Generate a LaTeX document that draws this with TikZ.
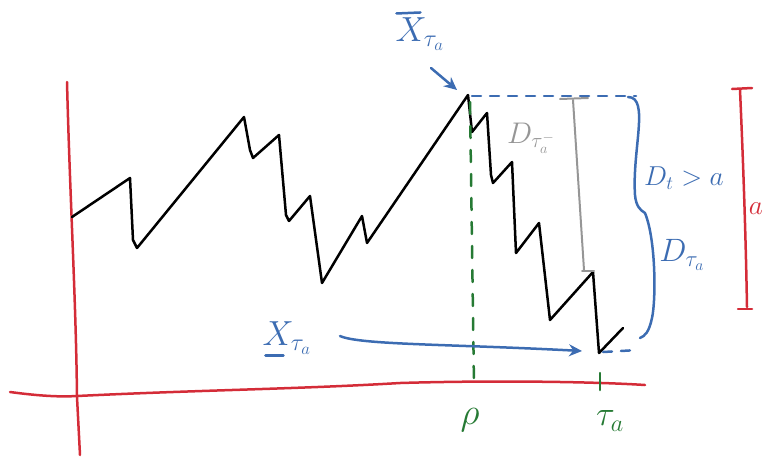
\documentclass[tikz,border=0pt]{standalone}
\usepackage{graphicx}
\usetikzlibrary{arrows.meta}
\definecolor{pblue}{RGB}{60,108,178}
\definecolor{pred}{RGB}{212,44,56}
\definecolor{pgreen}{RGB}{38,122,52}
\definecolor{pgray}{RGB}{150,150,150}
\newcommand{\sketchlabel}[2][1.4]{\scalebox{#1}{\fontsize{24}{28}\selectfont$#2$}}
\tikzset{
  ink/.style={line width=2.5pt,line cap=round,line join=round},
  axis/.style={ink,pred},
  path/.style={ink,black},
  bluedash/.style={ink,pblue,dash pattern=on 9pt off 9pt},
  greendash/.style={ink,pgreen,dash pattern=on 12pt off 12pt},
  lbl/.style={inner sep=0pt},
  barrow/.style={ink,pblue,-{Stealth[length=13pt,width=12pt]}}
}
\begin{document}
\begin{tikzpicture}[x=1pt,y=-1pt]
\useasboundingbox (0,0) rectangle (763,459);
% axes
\draw[axis] (67,82) .. controls (70,200) and (76,300) .. (77,397) -- (80,455);
\draw[axis] (10,392) .. controls (40,396) and (60,397) .. (77,396) .. controls (200,390) and (300,389) .. (400,383) .. controls (500,380) and (600,382) .. (645,385);
% sample path
\coordinate (p0) at (72,217);
\draw[path] (p0) -- (130,178) -- (133,240) -- (137,248) -- (244,117) -- (250,150) -- (253,158) -- (279,135) -- (286,215) -- (289,221) -- (310,196) -- (322,283) -- (362,216) -- (367,243) -- (468,95) -- (472,132)
  -- (487,113) -- (491,175) -- (493,183) -- (512,162) -- (516,253) -- (539,223) -- (550,320) -- (593,272) -- (599,353) -- (623,328);
% green dashed and tick
\draw[greendash] (470,102) -- (474,386);
\draw[ink,pgreen] (600,373) -- (600,390);
% blue dashed
\draw[bluedash] (472,96) -- (636,96);
\draw[bluedash] (603,352) -- (638,350);
% gray jump
\draw[ink,pgray,line width=2pt] (573,100) -- (584,270);
\draw[ink,pgray,line width=2pt] (560,99) -- (588,98);
\draw[ink,pgray,line width=2pt] (582,271) -- (594,271);
% brace
\draw[ink,pblue] (628,97) .. controls (650,97) and (632,150) .. (635,195) .. controls (636,206) and (640,210) .. (645,213) .. controls (656,240) and (656,300) .. (652,318) .. controls (649,332) and (645,336) .. (640,338);
% red bar a
\draw[axis] (740,90) .. controls (744,180) and (746,250) .. (747,307);
\draw[axis] (732,89) -- (752,88);
\draw[axis] (738,309) -- (752,309);
% labels
\node[lbl,text=pblue] (xbar) at (420,34) {\sketchlabel{X_{\tau_a}}};
\draw[ink,pblue] ([xshift=1pt,yshift=4pt]xbar.north west) -- ++(24,-1);
\node[lbl,text=pblue] (xund) at (287,338) {\sketchlabel{X_{\tau_a}}};
\draw[ink,pblue] ([xshift=3pt,yshift=-1pt]xund.south west) -- ++(18,0);
\node[lbl,text=pgray] (dminus) at (531,138) {\sketchlabel[1.2]{D_{\tau_a^-}}};
\node[lbl,text=pblue] (dt) at (684,178) {\sketchlabel[1.1]{D_t>a}};
\node[lbl,text=pblue] (dtau) at (682,255) {\sketchlabel[1.3]{D_{\tau_a}}};
\node[lbl,text=pred] (ared) at (756,209) {\sketchlabel[1.1]{a}};
\node[lbl,text=pgreen] (rho) at (470,420) {\sketchlabel[1.5]{\rho}};
\node[lbl,text=pgreen] (tau) at (610,421) {\sketchlabel[1.4]{\tau_a}};
% arrows
\coordinate (xa) at (431,68);
\coordinate (xb) at (457,90);
\draw[barrow] (xa) -- (xb);
\coordinate (ua) at (340,336);
\coordinate (ub) at (582,351);
\draw[barrow] (ua) .. controls (360,345) and (450,344) .. (ub);
\end{tikzpicture}
\end{document}
